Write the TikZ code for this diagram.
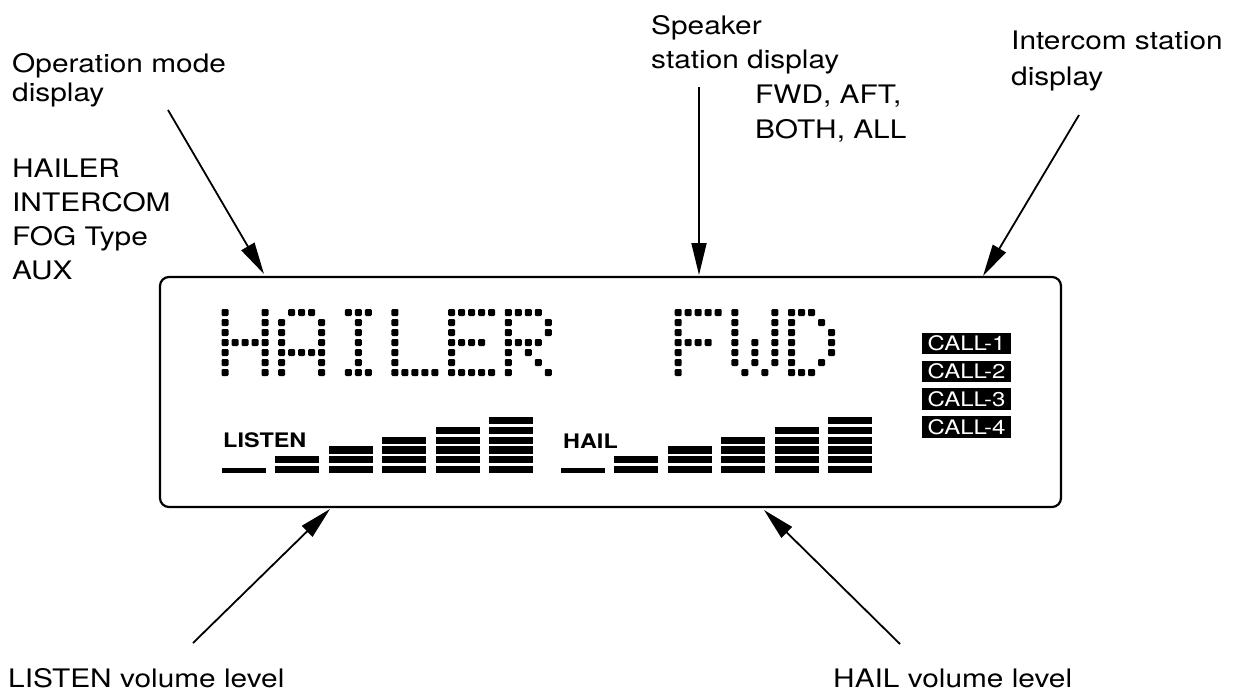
\documentclass[tikz,border=0pt]{standalone}
\usepackage{fontspec}
\usetikzlibrary{arrows.meta}
\newfontfamily\lblfont[FakeStretch=1.17]{TeX Gyre Heros}
\newfontfamily\callfont[FakeStretch=1.2]{TeX Gyre Heros}
\def\glH{{0,4},{0,4},{0,4},{0,1,2,3,4},{0,4},{0,4},{0,4}}
\def\glA{{1,2,3},{0,4},{0,4},{0,4},{0,1,2,3,4},{0,4},{0,4}}
\def\glI{{1,2,3},{2},{2},{2},{2},{2},{1,2,3}}
\def\glL{{0},{0},{0},{0},{0},{0},{0,1,2,3,4}}
\def\glE{{0,1,2,3,4},{0},{0},{0,1,2,3},{0},{0},{0,1,2,3,4}}
\def\glR{{0,1,2,3},{0,4},{0,4},{0,1,2,3},{0,2},{0,3},{0,4}}
\def\glF{{0,1,2,3,4},{0},{0},{0,1,2,3},{0},{0},{0}}
\def\glW{{0,4},{0,4},{0,4},{0,2,4},{0,2,4},{0,2,4},{1,3}}
\def\glD{{0,1,2},{0,3},{0,4},{0,4},{0,4},{0,3},{0,1,2}}
\newcommand\dmchar[2]{%
  \foreach \cols [count=\rr from 0] in #2 {
    \foreach \k in \cols {
      \fill[px] ({#1+10*\k-3.5}, {312.5+10*\rr-3.5}) rectangle ++(7,7);
    }
  }
}
\newcommand\levelbars[1]{%
  \fill[seg] (#1, 467.5) rectangle ++(44, 5.5);
  \foreach \i in {1,...,5} {
    \foreach \k in {0,...,\i} {
      \fill[seg] ({#1+53.4*\i}, {466-9.8*\k}) rectangle ++(44, 7.2);
    }
  }
}
\begin{document}
\begin{tikzpicture}[x=1pt,y=-1pt,
  lbl/.style={anchor=base west, inner sep=0pt, font=\lblfont\fontsize{25.5}{30}\selectfont},
  barlbl/.style={anchor=base west, inner sep=0pt, font=\lblfont\bfseries\fontsize{20}{22}\selectfont},
  callbox/.style={fill=black, text=white, minimum width=89pt, minimum height=21.5pt, inner sep=0pt, font=\callfont\fontsize{20}{21}\selectfont},
  ptr/.style={line width=1.8pt, -{Triangle[length=32pt,width=15pt]}},
  lcdframe/.style={draw, line width=2.2pt, rounded corners=9pt, minimum width=901pt, minimum height=230pt, inner sep=0pt},
  px/.style={fill=black, rounded corners=1.2pt},
  seg/.style={fill=black}]
\useasboundingbox (0,0) rectangle (1234,693);

% LCD frame
\node[lcdframe] (lcd) at (610.5,392) {};

% dot-matrix text "HAILER  FWD"
\dmchar{225}{\glH}
\dmchar{281.65}{\glA}
\dmchar{338.3}{\glI}
\dmchar{394.95}{\glL}
\dmchar{451.6}{\glE}
\dmchar{508.25}{\glR}
\dmchar{678.2}{\glF}
\dmchar{734.85}{\glW}
\dmchar{791.5}{\glD}

% level bars
\node[barlbl] (listenlbl) at (223,447) {LISTEN};
\levelbars{222}
\node[barlbl] (haillbl) at (563,448) {HAIL};
\levelbars{561}

% call indicators
\node[callbox] (call1) at (966.5,343.5) {CALL-1};
\node[callbox] (call2) at (966.5,371.3) {CALL-2};
\node[callbox] (call3) at (966.5,399) {CALL-3};
\node[callbox] (call4) at (966.5,426.8) {CALL-4};

% labels
\node[lbl] (op1) at (12,73) {Operation mode};
\node[lbl] (op2) at (12,101) {display};
\node[lbl] (m1) at (12,177) {HAILER};
\node[lbl] (m2) at (12,211) {INTERCOM};
\node[lbl] (m3) at (12,245) {FOG Type};
\node[lbl] (m4) at (12,279) {AUX};
\node[lbl] (sp1) at (651,35) {Speaker};
\node[lbl] (sp2) at (651,68) {station display};
\node[lbl] (sp3) at (755,103) {FWD, AFT,};
\node[lbl] (sp4) at (755,138) {BOTH, ALL};
\node[lbl] (ic1) at (1011,50) {Intercom station};
\node[lbl] (ic2) at (1011,85) {display};
\node[lbl] (lv) at (8,687) {LISTEN volume level};
\node[lbl] (hv) at (833,687) {HAIL volume level};

% pointers
\coordinate (opT) at (168,110);  \coordinate (opH) at (264,274);
\coordinate (spT) at (699,87);   \coordinate (spH) at (699,275);
\coordinate (icT) at (1079,115); \coordinate (icH) at (983,276);
\coordinate (lvT) at (193,643);  \coordinate (lvH) at (330,509);
\coordinate (hvT) at (900,644);  \coordinate (hvH) at (764,510);
\draw[ptr] (opT) -- (opH);
\draw[ptr] (spT) -- (spH);
\draw[ptr] (icT) -- (icH);
\draw[ptr] (lvT) -- (lvH);
\draw[ptr] (hvT) -- (hvH);
\end{tikzpicture}
\end{document}
